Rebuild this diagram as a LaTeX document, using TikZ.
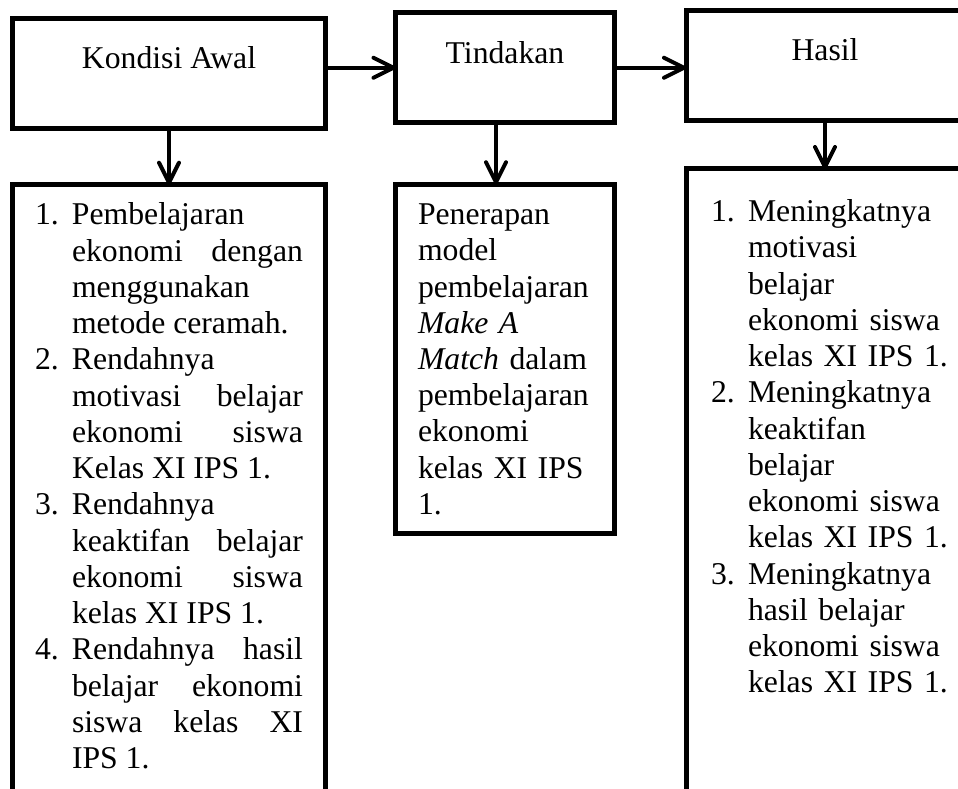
\documentclass[tikz,border=0pt]{standalone}
\usepackage{fontspec}
\setmainfont{Liberation Serif}
\usetikzlibrary{positioning,arrows.meta}
\newcommand{\butir}[1]{\hangindent=0.37cm\hangafter=1\noindent\makebox[0.37cm][l]{#1}}
\tikzstyle{header} = [rectangle, draw, line width=0.05cm, outer sep=0pt, inner sep=0pt, minimum height=1.1cm, text height=0.22cm, text depth=0.31cm]
\tikzstyle{content} = [rectangle, draw, line width=0.05cm, outer sep=0pt, text height=0.22cm, inner xsep=0.225cm, inner ysep=0.183cm,
    execute at begin node={\tolerance=10000\hbadness=10000}]
\tikzstyle{line} = [draw, line width=0.04cm, -{Straight Barb[length=0.2cm,width=0.2cm,round]}]
\begin{document}
\begin{tikzpicture}[font=\fontsize{9.02pt}{10.31pt}\selectfont]
\useasboundingbox[clip] (0,0) rectangle (9.58,-7.89);

\node [header, minimum width=3.13cm] at (1.69,-0.735) (awal) {Kondisi Awal};
\node [header, minimum width=2.19cm, right=0.70cm of awal, yshift=0.0575cm] (tindakan) {Tindakan};
\node [header, minimum width=2.78cm, right=0.715cm of tindakan, yshift=0.0225cm] (hasil) {Hasil};

%uraian
\node [content, text width=2.68cm, text depth=6cm, align=justify, below=0.562cm of awal] (awal_isi) {\butir{1.}Pembelajaran\linebreak ekonomi dengan\linebreak menggunakan\linebreak metode ceramah.\par
\butir{2.}Rendahnya\linebreak motivasi belajar\linebreak ekonomi siswa\linebreak Kelas XI IPS 1.\par
\butir{3.}Rendahnya\linebreak keaktifan belajar\linebreak ekonomi siswa\linebreak kelas XI IPS 1.\par
\butir{4.}Rendahnya hasil\linebreak belajar ekonomi\linebreak siswa kelas XI\linebreak IPS 1.\par};
\node [content, text width=1.74cm, align=left, below=0.615cm of tindakan] (tindakan_isi) {Penerapan\\model\\pembelajaran\\\emph{Make A}\\\emph{Match} dalam\\pembelajaran\\ekonomi\\kelas XI IPS\\1.};
\node [content, text width=2.5cm, text depth=6.5cm, align=left, inner xsep=0.25cm, inner ysep=0.307cm, below right=0.485cm and 0cm of hasil.south west] (hasil_isi) {\butir{1.}Meningkatnya\newline motivasi\newline belajar\newline ekonomi siswa\newline kelas XI IPS 1.\par
\butir{2.}Meningkatnya\newline keaktifan\newline belajar\newline ekonomi siswa\newline kelas XI IPS 1.\par
\butir{3.}Meningkatnya\newline hasil belajar\newline ekonomi siswa\newline kelas XI IPS 1.\par};

% arrows
\path [line] (tindakan.west -| awal.east) -- (tindakan.west);
\path [line] (tindakan.east) -- (tindakan.east -| hasil.west);

\path [line] (awal.south) -- (awal_isi.north);
\path [line] ([xshift=-0.09cm]tindakan.south) -- ([xshift=-0.09cm]tindakan_isi.north);
\path [line] (hasil.south) -- (hasil.south |- hasil_isi.north);

\end{tikzpicture}
\end{document}
